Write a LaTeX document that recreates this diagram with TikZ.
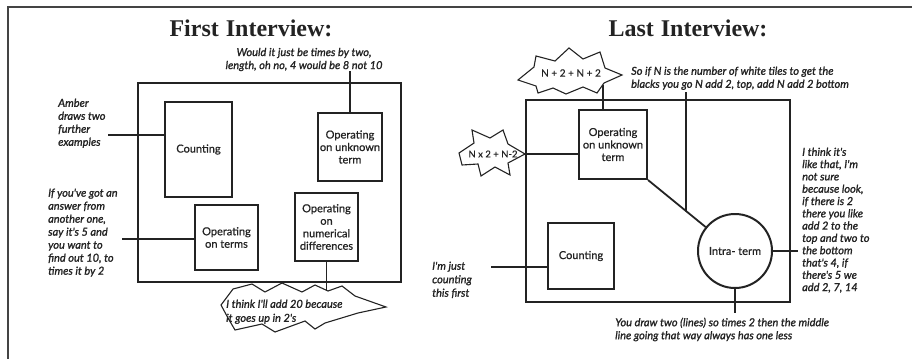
\documentclass[tikz,border=0pt]{standalone}
\usepackage{fontspec}
\setmainfont{Lato}
\newfontfamily\titlefont{Liberation Serif}
\newfontfamily\qfont{Lato}[FakeBold=1.4]
\newfontfamily\bxfont{Lato}[FakeBold=0.8]
\usetikzlibrary{calc}
\definecolor{ink}{RGB}{35,35,35}
\tikzset{
 box/.style={draw=ink, line width=2pt, inner sep=1pt, align=center, font=\bxfont\fontsize{11}{12.5}\selectfont, text=ink},
 bigframe/.style={draw=ink, line width=2.6pt},
 outerframe/.style={draw=ink!85, line width=2.6pt},
 conn/.style={draw=ink, line width=1.8pt},
 quote/.style={font=\qfont\itshape\fontsize{11}{13}\selectfont, align=left, inner sep=0pt, text=ink},
 jagtext/.style={font=\bxfont\fontsize{10}{12}\selectfont, inner sep=0pt, text=ink},
 jag/.style={draw=ink, line width=1.1pt, line join=miter},
 ttl/.style={font=\titlefont\bfseries\fontsize{24}{27}\selectfont, text=ink},
}
\begin{document}
\begin{tikzpicture}[x=1pt,y=-1pt]
\useasboundingbox (0,0) rectangle (912,359);
% outer frame (top and left)
\coordinate (fTL) at (8,7);
\coordinate (fTR) at (912,7);
\coordinate (fBL) at (8,359);
\draw[outerframe] (fTR) -- (fTL) -- (fBL);

%%%%%%%% First interview
\node[ttl] (tL) at (251,28) {First\hspace{7pt}Interview:};
\draw[bigframe] (138,83) rectangle (401,282);
\node[box, minimum width=67pt, minimum height=95pt] (cntL) at (198.5,149.5) {Counting};
\node[box, minimum width=64pt, minimum height=68pt] (unkL) at (350,147) {Operating\\on unknown\\term};
\node[box, minimum width=63pt, minimum height=65pt] (termsL) at (226.5,237.5) {Operating\\on terms};
\node[box, minimum width=63pt, minimum height=68pt] (diffL) at (326.5,227) {Operating\\on\\numerical\\differences};

\node[quote, align=center] (qL) at (304,59.5) {Would it just be times by two,\\length, oh no, 4 would be 8 not 10};
\draw[conn] (unkL.north) -- (unkL.north |- qL.south);

\node[quote, anchor=north west] (amber) at (58,98.5) {Amber\\draws two\\further\\examples};
\coordinate (a1) at (108,135);
\draw[conn] (a1) -- (a1 -| cntL.west);

\node[quote, anchor=north west] (ifL) at (48,188.5) {If you've got an\\answer from\\another one,\\say it's 5 and\\you want to\\find out 10, to\\times it by 2};
\coordinate (a2) at (122,239);
\draw[conn] (a2) -- (a2 -| termsL.west);

% jagged callout left
\draw[jag] (221,305) -- (233,289) -- (252,284) -- (265,292) -- (282,283) -- (302,292) -- (315,285) -- (328,291) -- (342,286) -- (355,296) -- (386,307)
 -- (358,313) -- (325,323) -- (315,329) -- (305,321) -- (275,332) -- (262,324) -- (235,330) -- (228,318) -- cycle;
\node[quote, anchor=north west, font=\qfont\itshape\fontsize{11}{14}\selectfont] (jL) at (226,299.5) {I think I'll add 20 because\\it goes up in 2's};
\coordinate (jLtop) at (diffL.south |- 0,291);
\draw[conn] (diffL.south) -- (jLtop);

%%%%%%%% Last interview
\node[ttl] (tR) at (688,28) {Last\hspace{7pt}Interview:};
\draw[bigframe] (526,100) rectangle (790,302);
\node[box, minimum width=68pt, minimum height=69pt] (unkR) at (613,144.5) {Operating\\on unknown\\term};
\node[box, minimum width=66pt, minimum height=66pt] (cntR) at (581,256) {Counting};
\node[box, circle, minimum size=74pt] (intra) at (735,251) {Intra- term};

% N+2+N+2 callout
\draw[jag] (518,80) -- (534,67) -- (536,56) -- (555,61) -- (569,48) -- (583,59) -- (600,52) -- (605,68) -- (622,75)
 -- (604,83) -- (597,93) -- (583,87) -- (566,94) -- (553,88) -- (538,93) -- (536,86) -- cycle;
\node[jagtext] (jN1) at (571,73) {N + 2 + N + 2};
\coordinate (jN1b) at (603,85);
\draw[conn] (jN1b) -- (jN1b |- unkR.north);

\node[quote, anchor=north west] (qR) at (631,66.5) {So if N is the number of white tiles to get the\\blacks you go N add 2, top, add N add 2 bottom};

% N x 2 + N-2 callout
\draw[jag] (459,153) -- (474,143) -- (472,130) -- (490,138) -- (503,130) -- (508,144) -- (525,154)
 -- (508,163) -- (510,175) -- (495,167) -- (481,176) -- (478,164) -- (462,165) -- cycle;
\node[jagtext, font=\bxfont\fontsize{9.5}{11}\selectfont] (jN2) at (493,154) {N x 2 + N-2};
\coordinate (jN2tip) at (524,154);
\draw[conn] (jN2tip) -- (jN2tip -| unkR.west);

% diagonal between unknown term and intra-term
\coordinate (d1) at (unkR.south east);
\draw[conn] (d1) -- (intra);
\coordinate (qa) at (686,92);
\coordinate (qb) at (686,300);
\coordinate (dx) at (intersection of d1--intra.center and qa--qb);
\draw[conn] (qa) -- (dx);

\node[quote, anchor=north west, font=\qfont\itshape\fontsize{11}{12.3}\selectfont] (qRt) at (802,147.5) {I think it's\\like that, I'm\\not sure\\because look,\\if there is 2\\there you like\\add 2 to the\\top and two to\\the bottom\\that's 4, if\\there's 5 we\\add 2, 7, 14};
\coordinate (c1) at (798,251);
\draw[conn] (intra.east) -- (c1);

\node[quote, anchor=north west, font=\qfont\itshape\fontsize{11}{13.5}\selectfont] (imj) at (432,261.5) {I'm just\\counting\\this first};
\coordinate (c2) at (491,267);
\draw[conn] (c2) -- (c2 -| cntR.west);

\node[quote, anchor=north west] (qB) at (615,317.5) {You draw two (lines) so times 2 then the middle\\line going that way always has one less};
\coordinate (c3) at (735,313);
\draw[conn] (intra.south) -- (c3);
\end{tikzpicture}
\end{document}
